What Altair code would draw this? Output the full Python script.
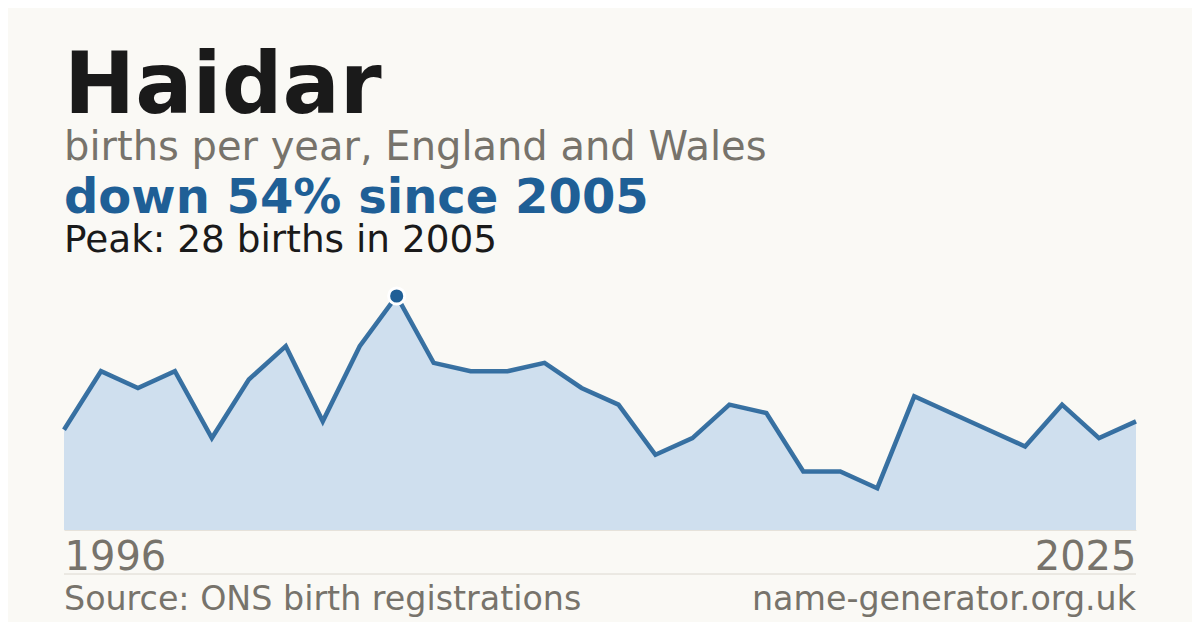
import altair as alt
import pandas as pd

years = list(range(1996, 2026))
births = [12, 19, 17, 19, 11, 18, 22, 13, 22, 28, 20, 19, 19, 20, 17, 15, 9, 11,
          15, 14, 7, 7, 5, 16, 14, 12, 10, 15, 11, 13]
peak_year = [2005]
peak_value = [28]
tick_years = [1996, 2025]

title_text = "Haidar"
subtitle_text = "births per year, England and Wales"
change_text = "down 54% since 2005"
peak_text = "Peak: 28 births in 2005"
source_text = "Source: ONS birth registrations"
site_text = "name-generator.org.uk"

FONT = "DejaVu Sans"
BG = "#faf9f5"
DARK = "#1a1a1a"
GREY = "#77736b"
BLUE = "#1f5f96"
FILL = "#cfdfee"

df = pd.DataFrame({"year": years, "births": births})
peak_df = pd.DataFrame({"year": peak_year, "births": peak_value})

W, H = 1072, 234

x = alt.X("year:Q", scale=alt.Scale(domain=[1996, 2025], nice=False, zero=False),
          axis=alt.Axis(values=tick_years, format="d", title=None, labelFlush=True,
                        labelFontSize=40, labelColor=GREY, labelFont=FONT,
                        ticks=False, tickSize=0, grid=False, domain=True,
                        domainColor="#e6e2da", domainWidth=1,
                        labelBaseline="alphabetic", labelPadding=39))
y = alt.Y("births:Q", scale=alt.Scale(domain=[0, 28], nice=False), axis=None)

base = alt.Chart(df)
area = base.mark_area(color=FILL, opacity=1).encode(x=x, y=y)
line = base.mark_line(color=BLUE, strokeWidth=4.5, strokeOpacity=0.88,
                      strokeJoin="miter").encode(x="year:Q", y="births:Q")
dot = alt.Chart(peak_df).mark_point(filled=True, shape="circle", size=260,
                                    color=BLUE, stroke="white", strokeWidth=3,
                                    opacity=1, strokeOpacity=1).encode(
    x="year:Q", y="births:Q")

one = alt.Data(values=[{"k": 1}])


def label(text, yv, size, color, weight="normal", xv=0, align="left"):
    return alt.Chart(one).mark_text(text=text, font=FONT, fontSize=size,
                                    fontWeight=weight, color=color, align=align,
                                    baseline="alphabetic").encode(
        x=alt.value(xv), y=alt.value(yv))


t1 = label(title_text, -183, 85, DARK, "bold")
t2 = label(subtitle_text, -136, 40, GREY)
t3 = label(change_text, -83, 48, BLUE, "bold")
t4 = label(peak_text, -44, 37.4, DARK)
t5 = label(source_text, 314, 33.3, GREY)
t6 = label(site_text, 314, 33.3, GREY, xv=W, align="right")

sep = alt.Chart(one).mark_rule(color="#dcd8d0", strokeWidth=1).encode(
    x=alt.value(0), x2=alt.value(W), y=alt.value(278))

chart = alt.layer(area, line, dot, sep, t1, t2, t3, t4, t5, t6).properties(
    width=W, height=H,
    autosize=alt.AutoSizeParams(type="none"),
    padding={"left": 56, "top": 288, "right": 56, "bottom": 92},
    background=BG,
).configure_view(stroke=None)

chart.save("out.html", embed_options={"renderer": "svg", "actions": False})
